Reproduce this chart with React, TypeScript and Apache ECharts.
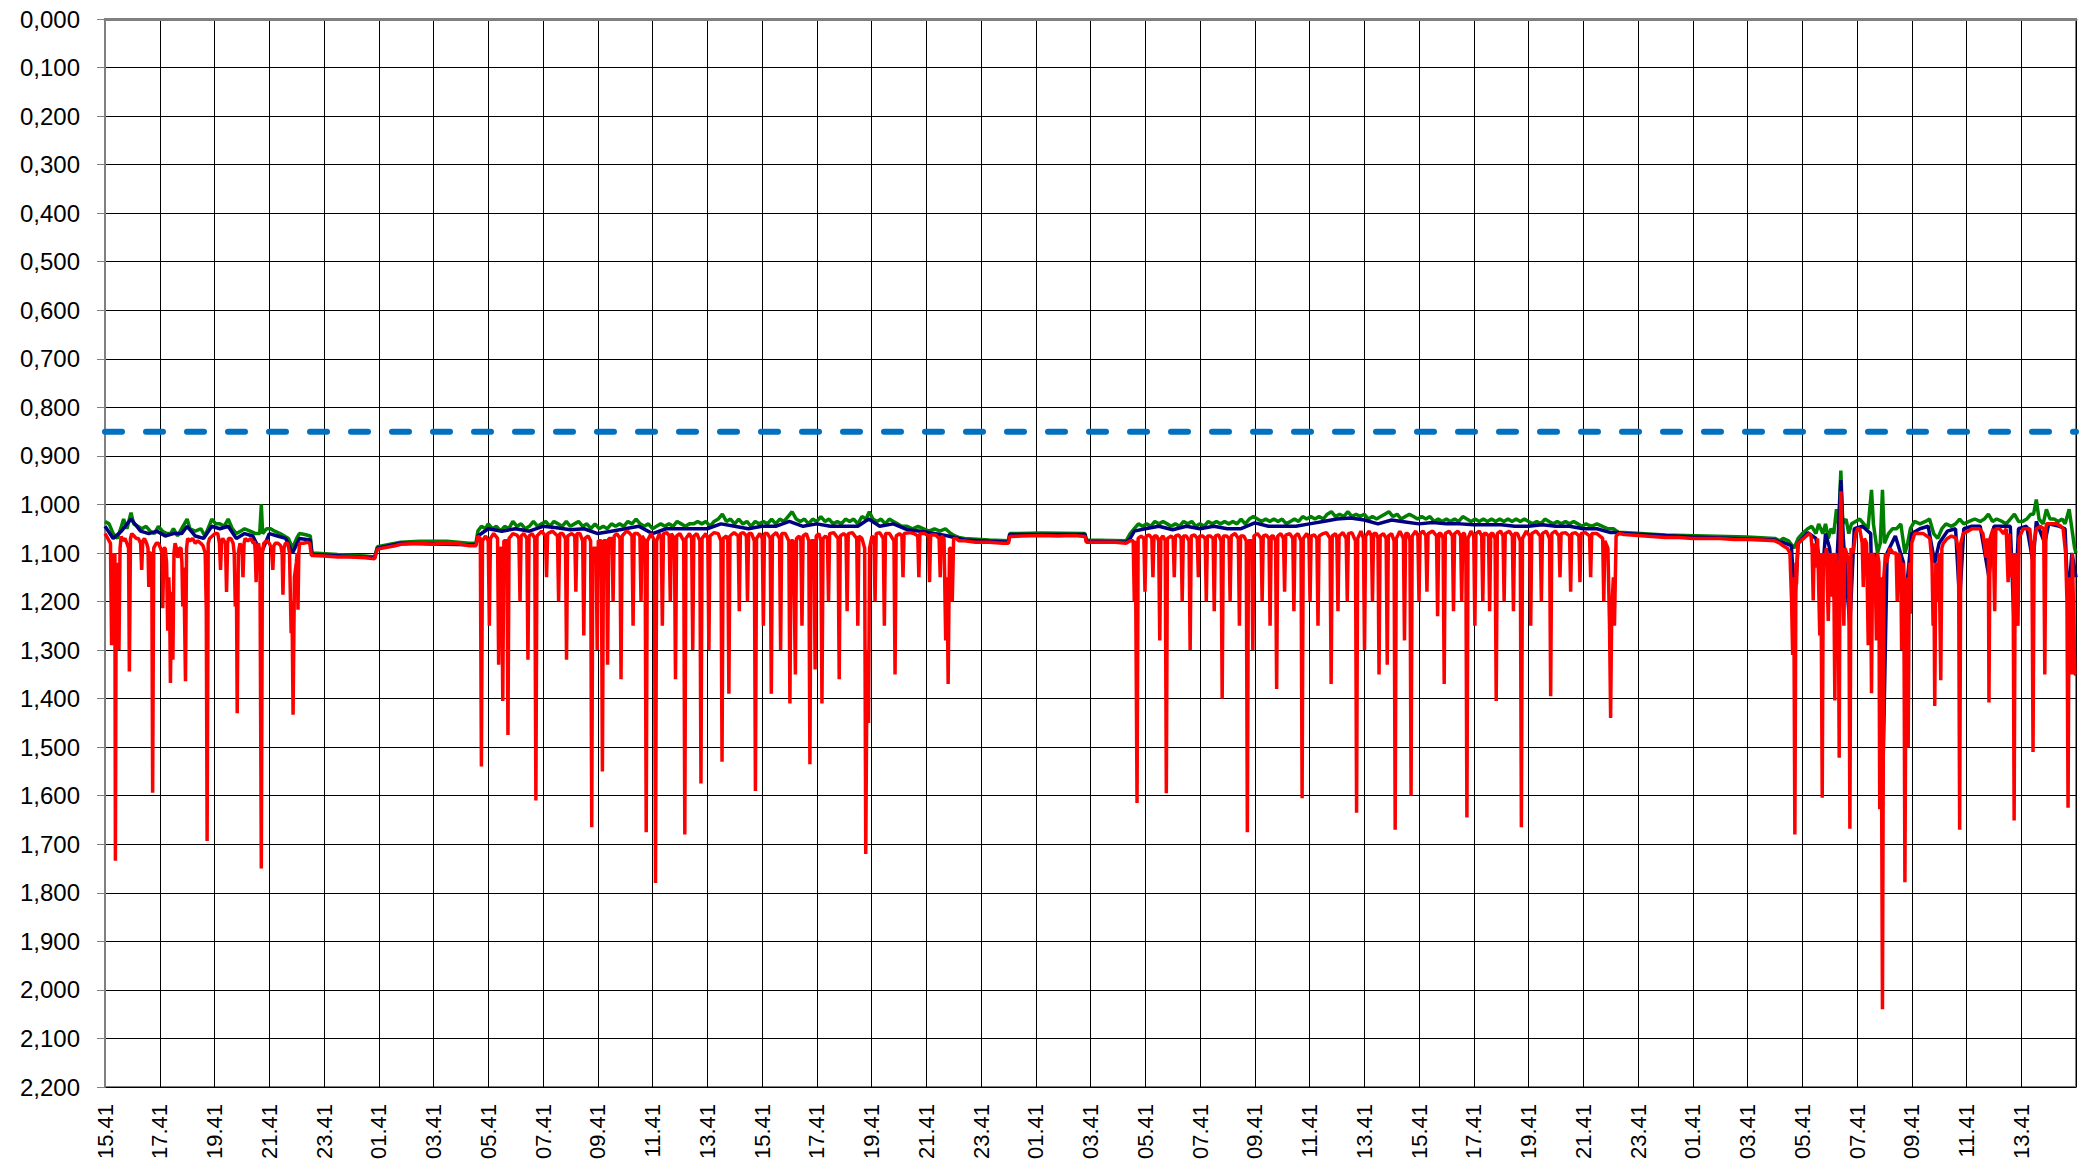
import React, { useEffect, useRef } from "react";
import * as echarts from "echarts";

// Tick labels of the time axis (every 2 hours, starting at 15.41)
const xTickLabels = [
  "15.41", "17.41", "19.41", "21.41", "23.41", "01.41", "03.41", "05.41", "07.41", "09.41", "11.41", "13.41",
  "15.41", "17.41", "19.41", "21.41", "23.41", "01.41", "03.41", "05.41", "07.41", "09.41", "11.41", "13.41",
  "15.41", "17.41", "19.41", "21.41", "23.41", "01.41", "03.41", "05.41", "07.41", "09.41", "11.41", "13.41",
];

const thresholdValue = 0.85;

// [hours since start, pressure]
const redPoints: [number, number][] = [
  [0.00,1.06],[0.10,1.07],[0.20,1.08],[0.24,1.29],[0.28,1.10],[0.32,1.15],[0.36,1.10],[0.38,1.734],[0.41,1.12],[0.44,1.29],[0.48,1.12],[0.51,1.30],[0.55,1.09],[0.59,1.066],[0.66,1.075],[0.73,1.07],[0.80,1.08],[0.86,1.09],[0.89,1.344],[0.93,1.07],[0.98,1.06],[1.06,1.065],[1.14,1.07],[1.22,1.07],[1.30,1.08],[1.34,1.135],[1.38,1.075],[1.44,1.07],[1.52,1.08],[1.57,1.09],[1.60,1.17],[1.64,1.10],[1.68,1.10],[1.71,1.12],[1.74,1.594],[1.78,1.09],[1.87,1.08],[1.95,1.08],[2.03,1.09],[2.08,1.10],[2.11,1.214],[2.15,1.09],[2.20,1.09],[2.25,1.12],[2.29,1.26],[2.33,1.15],[2.36,1.20],[2.39,1.368],[2.43,1.18],[2.48,1.32],[2.52,1.10],[2.56,1.08],[2.61,1.09],[2.66,1.11],[2.72,1.09],[2.78,1.09],[2.81,1.12],[2.84,1.21],[2.88,1.13],[2.94,1.364],[2.98,1.09],[3.02,1.07],[3.10,1.075],[3.20,1.07],[3.30,1.08],[3.39,1.075],[3.50,1.08],[3.58,1.085],[3.66,1.10],[3.70,1.22],[3.73,1.693],[3.77,1.08],[3.82,1.07],[3.92,1.065],[4.02,1.06],[4.12,1.06],[4.18,1.08],[4.22,1.135],[4.26,1.075],[4.30,1.07],[4.40,1.08],[4.44,1.18],[4.48,1.08],[4.51,1.07],[4.60,1.07],[4.68,1.08],[4.72,1.10],[4.76,1.21],[4.80,1.15],[4.83,1.43],[4.87,1.10],[4.93,1.08],[5.00,1.09],[5.04,1.15],[5.08,1.08],[5.12,1.07],[5.22,1.075],[5.32,1.07],[5.42,1.08],[5.46,1.075],[5.49,1.10],[5.52,1.16],[5.56,1.09],[5.61,1.08],[5.66,1.10],[5.71,1.75],[5.75,1.10],[5.80,1.08],[5.90,1.075],[6.00,1.08],[6.08,1.09],[6.13,1.135],[6.17,1.085],[6.22,1.08],[6.32,1.08],[6.42,1.085],[6.47,1.10],[6.50,1.186],[6.54,1.09],[6.59,1.08],[6.68,1.08],[6.74,1.10],[6.80,1.265],[6.83,1.20],[6.87,1.433],[6.92,1.15],[6.99,1.12],[7.02,1.10],[7.05,1.217],[7.08,1.10],[7.11,1.08],[7.25,1.08],[7.40,1.078],[7.48,1.08],[7.54,1.105],
  [7.60,1.105],[8.0,1.106],[8.5,1.108],[9.0,1.108],[9.5,1.11],[9.85,1.112],[9.95,1.092],[10.3,1.088],[10.6,1.085],[10.8,1.082],[11.5,1.08],[12.0,1.082],[12.2,1.08],[12.8,1.08],[13.0,1.082],[13.3,1.085],[13.55,1.085],
  [13.62,1.065],[13.71,1.07],[13.75,1.54],[13.79,1.075],[13.90,1.065],[14.00,1.075],[14.04,1.25],[14.08,1.07],[14.20,1.06],[14.34,1.07],[14.38,1.33],[14.42,1.09],[14.49,1.09],[14.53,1.405],[14.57,1.075],[14.68,1.075],[14.72,1.475],[14.76,1.07],[14.90,1.06],[15.05,1.063],[15.12,1.07],[15.16,1.20],[15.20,1.065],[15.30,1.06],[15.41,1.07],[15.45,1.32],[15.49,1.065],[15.60,1.06],[15.70,1.07],[15.74,1.61],[15.78,1.065],[15.95,1.055],[16.09,1.065],[16.13,1.15],[16.17,1.06],[16.35,1.055],[16.53,1.065],[16.57,1.20],[16.61,1.06],[16.72,1.06],[16.82,1.07],[16.86,1.32],[16.90,1.065],[17.05,1.06],[17.16,1.065],[17.20,1.18],[17.24,1.06],[17.35,1.06],[17.45,1.075],[17.49,1.27],[17.53,1.07],[17.65,1.065],[17.74,1.075],[17.78,1.665],[17.82,1.09],[17.94,1.09],[17.98,1.30],[18.02,1.075],[18.13,1.075],[18.17,1.55],[18.21,1.075],[18.32,1.075],[18.36,1.33],[18.40,1.07],[18.52,1.07],[18.56,1.20],[18.60,1.065],[18.70,1.06],[18.81,1.07],[18.85,1.36],[18.89,1.065],[19.05,1.055],[19.15,1.058],[19.25,1.065],[19.29,1.25],[19.33,1.06],[19.45,1.06],[19.54,1.065],[19.58,1.20],[19.62,1.065],[19.73,1.075],[19.77,1.675],[19.81,1.075],[19.95,1.06],[20.07,1.075],[20.11,1.78],[20.15,1.075],[20.25,1.06],[20.32,1.07],[20.36,1.25],[20.40,1.06],[20.52,1.058],[20.61,1.065],[20.65,1.20],[20.69,1.06],[20.80,1.07],[20.84,1.36],[20.88,1.065],[21.00,1.06],[21.14,1.075],[21.18,1.68],[21.22,1.07],[21.35,1.06],[21.43,1.07],[21.47,1.30],[21.51,1.065],[21.62,1.06],[21.73,1.075],[21.77,1.575],[21.81,1.07],[21.95,1.06],[22.02,1.07],[22.06,1.30],[22.10,1.065],[22.25,1.058],[22.40,1.06],[22.50,1.075],[22.54,1.53],[22.58,1.07],[22.70,1.065],[22.75,1.075],[22.79,1.39],[22.83,1.065],[22.98,1.058],[23.13,1.065],[23.17,1.22],[23.21,1.06],[23.32,1.058],[23.43,1.065],[23.47,1.20],[23.51,1.06],[23.62,1.06],[23.72,1.075],[23.76,1.59],[23.80,1.07],[23.92,1.06],[24.01,1.07],[24.05,1.25],[24.09,1.06],[24.20,1.06],[24.30,1.07],[24.34,1.39],[24.38,1.065],[24.52,1.058],[24.64,1.07],[24.68,1.30],[24.72,1.06],[24.85,1.06],[24.98,1.075],[25.02,1.41],[25.06,1.075],[25.14,1.075],[25.18,1.20],[25.22,1.35],[25.26,1.07],[25.36,1.065],[25.42,1.075],[25.46,1.25],[25.50,1.065],[25.62,1.06],[25.71,1.075],[25.75,1.535],[25.79,1.075],[25.90,1.075],[25.94,1.34],[25.98,1.065],[26.08,1.06],[26.15,1.075],[26.19,1.41],[26.23,1.07],[26.32,1.065],[26.39,1.07],[26.43,1.20],[26.47,1.06],[26.62,1.058],[26.78,1.07],[26.82,1.36],[26.86,1.065],[26.98,1.06],[27.07,1.065],[27.11,1.22],[27.15,1.06],[27.30,1.058],[27.46,1.07],[27.50,1.25],[27.54,1.065],[27.65,1.07],[27.75,1.09],[27.79,1.72],[27.84,1.30],[27.89,1.45],[27.93,1.09],[28.02,1.065],[28.09,1.07],[28.13,1.20],[28.17,1.06],[28.30,1.058],[28.43,1.07],[28.47,1.25],[28.51,1.06],[28.66,1.06],[28.82,1.075],[28.86,1.35],[28.90,1.065],[29.02,1.06],[29.11,1.065],[29.15,1.15],[29.19,1.06],[29.40,1.058],[29.55,1.06],[29.69,1.065],[29.73,1.15],[29.77,1.06],[29.95,1.06],[30.08,1.065],[30.12,1.16],[30.16,1.063],[30.35,1.063],[30.47,1.07],[30.51,1.15],[30.55,1.065],[30.65,1.07],[30.71,1.28],[30.76,1.15],[30.80,1.37],[30.85,1.09],[30.90,1.09],[30.95,1.20],[31.00,1.07],[31.10,1.07],[31.19,1.075],
  [31.4,1.075],[31.8,1.078],[32.3,1.078],[32.8,1.08],[33.0,1.08],[33.05,1.066],[33.5,1.065],[34.2,1.064],[34.8,1.065],[35.4,1.064],[35.8,1.066],[35.85,1.078],[36.3,1.078],[36.9,1.078],[37.3,1.08],[37.45,1.075],
  [37.56,1.075],[37.60,1.20],[37.64,1.075],[37.66,1.075],[37.70,1.615],[37.74,1.07],[37.85,1.065],[37.95,1.07],[37.99,1.18],[38.03,1.065],[38.15,1.063],[38.24,1.07],[38.28,1.15],[38.32,1.065],[38.42,1.065],[38.49,1.075],[38.53,1.28],[38.57,1.07],[38.65,1.065],[38.73,1.075],[38.77,1.595],[38.81,1.07],[38.95,1.065],[39.02,1.07],[39.06,1.15],[39.10,1.065],[39.22,1.063],[39.31,1.07],[39.35,1.20],[39.39,1.065],[39.50,1.065],[39.60,1.075],[39.64,1.30],[39.68,1.065],[39.80,1.063],[39.90,1.07],[39.94,1.15],[39.98,1.065],[40.10,1.065],[40.19,1.07],[40.23,1.20],[40.27,1.065],[40.38,1.065],[40.48,1.07],[40.52,1.22],[40.56,1.065],[40.68,1.063],[40.77,1.075],[40.81,1.40],[40.85,1.065],[40.97,1.065],[41.06,1.07],[41.10,1.20],[41.14,1.065],[41.28,1.06],[41.40,1.07],[41.44,1.25],[41.48,1.065],[41.60,1.065],[41.69,1.075],[41.73,1.675],[41.77,1.075],[41.89,1.075],[41.93,1.30],[41.97,1.065],[42.10,1.06],[42.23,1.07],[42.27,1.20],[42.31,1.065],[42.42,1.063],[42.52,1.07],[42.56,1.25],[42.60,1.065],[42.68,1.065],[42.76,1.075],[42.80,1.38],[42.84,1.065],[42.95,1.06],[43.05,1.07],[43.09,1.18],[43.13,1.063],[43.28,1.06],[43.39,1.07],[43.43,1.22],[43.47,1.065],[43.58,1.06],[43.69,1.075],[43.73,1.605],[43.77,1.07],[43.90,1.06],[43.98,1.07],[44.02,1.20],[44.06,1.065],[44.18,1.063],[44.27,1.07],[44.31,1.25],[44.35,1.065],[44.50,1.06],[44.62,1.058],[44.75,1.07],[44.79,1.37],[44.83,1.065],[44.95,1.06],[45.00,1.07],[45.04,1.22],[45.08,1.065],[45.22,1.058],[45.34,1.07],[45.38,1.20],[45.42,1.06],[45.55,1.058],[45.68,1.075],[45.72,1.635],[45.76,1.07],[45.88,1.055],[45.97,1.07],[46.01,1.30],[46.05,1.065],[46.18,1.055],[46.26,1.065],[46.30,1.20],[46.34,1.06],[46.44,1.06],[46.50,1.07],[46.54,1.35],[46.58,1.065],[46.70,1.06],[46.80,1.07],[46.84,1.33],[46.88,1.065],[47.00,1.06],[47.09,1.075],[47.13,1.67],[47.17,1.07],[47.30,1.055],[47.43,1.07],[47.47,1.28],[47.51,1.06],[47.60,1.06],[47.67,1.075],[47.71,1.60],[47.75,1.065],[47.88,1.055],[47.96,1.065],[48.00,1.20],[48.04,1.06],[48.15,1.055],[48.25,1.065],[48.29,1.18],[48.33,1.06],[48.50,1.055],[48.64,1.065],[48.68,1.23],[48.72,1.06],[48.80,1.06],[48.88,1.07],[48.92,1.37],[48.96,1.06],[49.10,1.055],[49.22,1.065],[49.26,1.22],[49.30,1.06],[49.42,1.055],[49.52,1.065],[49.56,1.20],[49.60,1.06],[49.66,1.06],[49.71,1.075],[49.75,1.645],[49.79,1.07],[49.90,1.055],[50.00,1.065],[50.04,1.25],[50.08,1.06],[50.20,1.055],[50.29,1.065],[50.33,1.20],[50.37,1.06],[50.45,1.06],[50.54,1.065],[50.58,1.22],[50.62,1.06],[50.70,1.06],[50.78,1.07],[50.82,1.405],[50.86,1.06],[50.98,1.055],[51.07,1.065],[51.11,1.20],[51.15,1.06],[51.30,1.055],[51.41,1.065],[51.45,1.22],[51.49,1.06],[51.60,1.06],[51.70,1.075],[51.74,1.665],[51.78,1.07],[51.92,1.055],[52.04,1.065],[52.08,1.25],[52.12,1.06],[52.28,1.055],[52.43,1.065],[52.47,1.20],[52.51,1.06],[52.65,1.055],[52.77,1.07],[52.81,1.395],[52.85,1.06],[52.98,1.055],[53.11,1.065],[53.15,1.15],[53.19,1.06],[53.35,1.058],[53.50,1.065],[53.54,1.18],[53.58,1.06],[53.72,1.058],[53.84,1.065],[53.88,1.16],[53.92,1.06],[54.08,1.058],[54.23,1.065],[54.27,1.15],[54.31,1.06],[54.50,1.06],[54.71,1.07],[54.75,1.20],[54.79,1.075],[54.90,1.09],[54.96,1.25],[55.00,1.44],[55.04,1.22],[55.10,1.15],[55.14,1.25],[55.20,1.065],[55.30,1.06],
  [55.5,1.062],[56.0,1.064],[56.5,1.066],[57.0,1.068],[57.5,1.068],[58.0,1.07],[58.5,1.07],[59.0,1.07],[59.5,1.072],[60.0,1.072],[60.5,1.073],[61.0,1.075],[61.18,1.08],
  [61.30,1.085],[61.45,1.09],[61.55,1.10],[61.61,1.20],[61.65,1.31],[61.69,1.15],[61.73,1.68],[61.77,1.12],[61.79,1.164],[61.84,1.08],[61.95,1.075],[62.05,1.07],[62.15,1.065],[62.25,1.06],[62.32,1.065],[62.36,1.09],[62.40,1.198],[62.44,1.08],[62.52,1.13],[62.56,1.07],[62.64,1.27],[62.68,1.10],[62.73,1.604],[62.77,1.10],[62.83,1.12],[62.88,1.09],[62.95,1.24],[63.00,1.10],[63.07,1.19],[63.11,1.10],[63.15,1.12],[63.19,1.404],[63.23,1.10],[63.28,1.20],[63.31,1.12],[63.35,1.522],[63.38,1.10],[63.41,0.973],[63.45,1.10],[63.52,1.25],[63.56,1.09],[63.62,1.10],[63.70,1.12],[63.74,1.668],[63.78,1.09],[63.86,1.10],[63.95,1.06],[64.02,1.05],[64.10,1.05],[64.19,1.08],[64.23,1.17],[64.27,1.07],[64.35,1.08],[64.41,1.29],[64.45,1.12],[64.49,1.10],[64.53,1.389],[64.57,1.10],[64.66,1.12],[64.71,1.28],[64.75,1.10],[64.80,1.12],[64.83,1.628],[64.87,1.15],[64.93,2.04],[64.98,1.15],[65.04,1.10],[65.08,1.12],[65.20,1.09],[65.32,1.10],[65.43,1.10],[65.47,1.20],[65.52,1.10],[65.60,1.12],[65.63,1.30],[65.68,1.12],[65.71,1.15],[65.75,1.778],[65.80,1.15],[65.87,1.50],[65.91,1.12],[65.95,1.225],[66.00,1.08],[66.11,1.06],[66.25,1.06],[66.42,1.06],[66.55,1.065],[66.66,1.07],[66.74,1.12],[66.78,1.25],[66.81,1.15],[66.84,1.415],[66.88,1.12],[66.96,1.20],[67.00,1.10],[67.06,1.362],[67.10,1.09],[67.15,1.08],[67.30,1.07],[67.45,1.065],[67.63,1.07],[67.71,1.10],[67.75,1.67],[67.79,1.08],[67.88,1.06],[68.05,1.055],[68.20,1.05],[68.35,1.05],[68.48,1.05],[68.60,1.06],[68.72,1.11],[68.76,1.07],[68.80,1.10],[68.82,1.408],[68.86,1.07],[68.97,1.05],[69.03,1.22],[69.07,1.05],[69.21,1.05],[69.35,1.06],[69.45,1.05],[69.52,1.16],[69.56,1.06],[69.64,1.15],[69.70,1.10],[69.74,1.651],[69.78,1.10],[69.88,1.25],[69.92,1.07],[70.07,1.05],[70.20,1.05],[70.31,1.05],[70.39,1.10],[70.43,1.51],[70.47,1.08],[70.55,1.05],[70.70,1.045],[70.82,1.05],[70.86,1.35],[70.90,1.05],[70.92,1.04],[71.10,1.04],[71.30,1.04],[71.45,1.045],[71.53,1.05],[71.62,1.10],[71.67,1.20],[71.71,1.625],[71.75,1.15],[71.83,1.35],[71.87,1.10],[71.92,1.25],[71.96,1.35],[72.00,1.35],
];

const bluePoints: [number, number][] = [
  [0,1.045],[0.3,1.07],[0.6,1.055],[0.95,1.03],[1.3,1.055],[1.6,1.06],[1.9,1.055],[2.2,1.065],[2.5,1.06],[2.8,1.06],[3.0,1.045],[3.3,1.065],[3.6,1.07],[3.9,1.045],[4.2,1.05],[4.5,1.045],[4.8,1.07],[5.1,1.06],[5.4,1.065],[5.71,1.10],[6.0,1.06],[6.3,1.065],[6.6,1.07],[6.85,1.10],[7.1,1.07],[7.5,1.073],[7.56,1.103],
  [7.6,1.103],[9.85,1.11],[9.95,1.09],[10.8,1.08],[13.3,1.083],[13.55,1.083],
  [13.62,1.065],[14.0,1.05],[14.5,1.055],[15.0,1.05],[15.5,1.055],[16.0,1.045],[16.5,1.048],[17.0,1.052],[17.5,1.05],[18.0,1.06],[18.5,1.055],[19.0,1.05],[19.5,1.045],[20.0,1.06],[20.5,1.05],[21.0,1.05],[21.5,1.05],[22.0,1.05],[22.5,1.04],[23.0,1.045],[23.5,1.05],[24.0,1.045],[24.5,1.045],[25.0,1.035],[25.5,1.045],[26.0,1.04],[26.5,1.045],[27.0,1.045],[27.5,1.045],[27.9,1.03],[28.3,1.045],[28.8,1.04],[29.3,1.052],[29.8,1.055],[30.3,1.06],[30.8,1.065],[31.19,1.07],
  [31.4,1.073],[33.0,1.078],[33.05,1.062],[35.8,1.062],[35.85,1.076],[37.3,1.078],[37.45,1.07],
  [37.6,1.055],[38.0,1.05],[38.5,1.045],[39.0,1.052],[39.5,1.045],[40.0,1.05],[40.5,1.045],[41.0,1.05],[41.5,1.05],[42.0,1.038],[42.5,1.045],[43.0,1.045],[43.5,1.045],[44.0,1.04],[44.5,1.035],[45.0,1.03],[45.5,1.028],[46.0,1.032],[46.5,1.04],[47.0,1.032],[47.5,1.036],[48.0,1.04],[48.5,1.037],[49.0,1.04],[49.5,1.04],[50.0,1.042],[50.5,1.042],[51.0,1.042],[51.5,1.045],[52.0,1.045],[52.5,1.042],[53.0,1.045],[53.5,1.045],[54.0,1.05],[54.5,1.05],[55.0,1.058],[55.3,1.058],
  [55.5,1.06],[58.0,1.067],[61.0,1.073],[61.18,1.078],
  [61.3,1.078],[61.6,1.085],[61.73,1.20],[61.85,1.08],[62.2,1.058],[62.5,1.07],[62.73,1.15],[62.85,1.06],[63.0,1.09],[63.19,1.20],[63.3,1.08],[63.41,0.95],[63.5,1.07],[63.74,1.25],[63.9,1.05],[64.2,1.045],[64.5,1.06],[64.53,1.15],[64.7,1.10],[64.85,1.30],[64.93,1.60],[65.0,1.40],[65.1,1.10],[65.4,1.065],[65.7,1.12],[65.75,1.35],[65.85,1.15],[66.0,1.06],[66.3,1.05],[66.6,1.045],[66.84,1.12],[67.0,1.08],[67.3,1.055],[67.6,1.05],[67.75,1.20],[67.9,1.05],[68.2,1.045],[68.5,1.045],[68.82,1.15],[69.0,1.045],[69.3,1.045],[69.6,1.045],[69.74,1.25],[69.9,1.05],[70.2,1.045],[70.43,1.12],[70.55,1.035],[70.86,1.08],[71.0,1.04],[71.4,1.045],[71.6,1.05],[71.71,1.20],[71.85,1.10],[72.0,1.15],
];

const greenPoints: [number, number][] = [
  [0,1.035],[0.15,1.04],[0.3,1.06],[0.45,1.07],[0.6,1.045],[0.68,1.03],[0.8,1.05],[0.95,1.017],[1.05,1.04],[1.2,1.045],[1.35,1.05],[1.5,1.045],[1.65,1.055],[1.8,1.06],[1.95,1.045],[2.1,1.055],[2.25,1.06],[2.4,1.06],[2.5,1.05],[2.65,1.065],[2.8,1.05],[3.0,1.03],[3.1,1.05],[3.3,1.055],[3.5,1.05],[3.65,1.065],[3.8,1.045],[3.9,1.03],[4.05,1.04],[4.2,1.04],[4.35,1.045],[4.5,1.03],[4.65,1.05],[4.8,1.06],[4.95,1.055],[5.1,1.05],[5.3,1.055],[5.5,1.06],[5.65,1.06],[5.71,1.0],[5.76,1.06],[5.9,1.05],[6.05,1.05],[6.2,1.055],[6.4,1.06],[6.55,1.065],[6.7,1.07],[6.85,1.09],[7.0,1.07],[7.1,1.06],[7.3,1.062],[7.5,1.065],[7.56,1.10],
  [7.6,1.1],[8.5,1.103],[9.5,1.106],[9.85,1.108],[9.95,1.087],[10.8,1.078],[11.5,1.076],[12.5,1.076],[13.3,1.08],[13.55,1.08],
  [13.62,1.055],[13.75,1.045],[13.9,1.05],[14.0,1.04],[14.15,1.05],[14.3,1.045],[14.45,1.055],[14.6,1.045],[14.75,1.05],[14.9,1.035],[15.05,1.045],[15.2,1.04],[15.35,1.05],[15.5,1.045],[15.65,1.035],[15.8,1.045],[15.95,1.04],[16.1,1.035],[16.25,1.045],[16.4,1.035],[16.55,1.04],[16.7,1.045],[16.85,1.035],[17.0,1.045],[17.15,1.04],[17.3,1.035],[17.45,1.045],[17.6,1.04],[17.75,1.05],[17.9,1.04],[18.05,1.05],[18.2,1.045],[18.35,1.05],[18.5,1.04],[18.65,1.045],[18.8,1.04],[18.95,1.045],[19.1,1.035],[19.25,1.04],[19.4,1.03],[19.55,1.04],[19.7,1.045],[19.85,1.04],[20.0,1.05],[20.15,1.045],[20.3,1.04],[20.45,1.045],[20.6,1.04],[20.75,1.045],[20.9,1.035],[21.05,1.04],[21.2,1.045],[21.35,1.04],[21.5,1.04],[21.65,1.035],[21.8,1.04],[21.95,1.035],[22.1,1.045],[22.25,1.035],[22.4,1.03],[22.55,1.02],[22.7,1.035],[22.85,1.03],[23.0,1.04],[23.15,1.03],[23.3,1.04],[23.45,1.035],[23.6,1.045],[23.75,1.035],[23.9,1.04],[24.05,1.035],[24.2,1.04],[24.35,1.03],[24.5,1.04],[24.65,1.03],[24.8,1.035],[24.95,1.025],[25.1,1.015],[25.25,1.03],[25.4,1.035],[25.55,1.03],[25.7,1.04],[25.85,1.03],[26.0,1.035],[26.15,1.025],[26.3,1.035],[26.45,1.03],[26.6,1.04],[26.75,1.035],[26.9,1.04],[27.05,1.03],[27.2,1.035],[27.35,1.03],[27.5,1.04],[27.65,1.025],[27.8,1.03],[27.92,1.015],[28.05,1.03],[28.2,1.035],[28.35,1.03],[28.5,1.04],[28.65,1.03],[28.8,1.035],[28.95,1.04],[29.1,1.045],[29.3,1.045],[29.5,1.05],[29.7,1.045],[29.9,1.05],[30.1,1.055],[30.3,1.05],[30.5,1.055],[30.7,1.05],[30.9,1.06],[31.05,1.065],[31.19,1.068],
  [31.4,1.07],[32.3,1.073],[33.0,1.075],[33.05,1.06],[34.2,1.059],[35.8,1.06],[35.85,1.073],[37.3,1.075],[37.45,1.06],
  [37.6,1.05],[37.75,1.04],[37.9,1.045],[38.05,1.04],[38.2,1.045],[38.35,1.035],[38.5,1.04],[38.65,1.035],[38.8,1.04],[38.95,1.045],[39.1,1.04],[39.25,1.045],[39.4,1.035],[39.55,1.04],[39.7,1.035],[39.85,1.045],[40.0,1.04],[40.15,1.045],[40.3,1.035],[40.45,1.04],[40.6,1.035],[40.75,1.04],[40.9,1.035],[41.05,1.04],[41.2,1.035],[41.35,1.04],[41.5,1.03],[41.65,1.04],[41.8,1.03],[41.95,1.025],[42.1,1.03],[42.25,1.035],[42.4,1.03],[42.55,1.035],[42.7,1.03],[42.85,1.035],[43.0,1.03],[43.15,1.04],[43.3,1.035],[43.45,1.03],[43.6,1.035],[43.75,1.025],[43.9,1.03],[44.05,1.025],[44.2,1.03],[44.35,1.025],[44.5,1.03],[44.65,1.02],[44.8,1.015],[44.95,1.025],[45.1,1.02],[45.25,1.025],[45.4,1.015],[45.55,1.025],[45.7,1.02],[45.85,1.025],[46.0,1.02],[46.15,1.03],[46.3,1.025],[46.45,1.03],[46.6,1.025],[46.75,1.02],[46.9,1.015],[47.05,1.025],[47.2,1.02],[47.35,1.03],[47.5,1.025],[47.65,1.02],[47.8,1.025],[47.95,1.03],[48.1,1.025],[48.25,1.03],[48.4,1.025],[48.55,1.035],[48.7,1.03],[48.85,1.035],[49.0,1.03],[49.15,1.035],[49.3,1.03],[49.45,1.035],[49.6,1.025],[49.75,1.03],[49.9,1.035],[50.05,1.03],[50.2,1.035],[50.35,1.03],[50.5,1.035],[50.65,1.03],[50.8,1.035],[50.95,1.03],[51.1,1.035],[51.25,1.03],[51.4,1.035],[51.55,1.03],[51.7,1.035],[51.85,1.03],[52.0,1.035],[52.15,1.04],[52.3,1.035],[52.45,1.04],[52.6,1.03],[52.75,1.035],[52.9,1.04],[53.05,1.035],[53.2,1.04],[53.35,1.035],[53.5,1.04],[53.65,1.035],[53.8,1.04],[53.95,1.045],[54.1,1.04],[54.3,1.045],[54.5,1.04],[54.7,1.045],[54.9,1.05],[55.1,1.05],[55.3,1.058],
  [55.5,1.058],[57.0,1.063],[58.5,1.065],[60.0,1.067],[61.0,1.07],[61.18,1.075],
  [61.3,1.07],[61.5,1.075],[61.7,1.09],[61.85,1.07],[62.0,1.06],[62.2,1.05],[62.35,1.045],[62.5,1.06],[62.6,1.04],[62.75,1.06],[62.85,1.04],[62.95,1.07],[63.05,1.05],[63.15,1.06],[63.25,1.01],[63.33,1.04],[63.41,0.93],[63.48,1.04],[63.6,1.03],[63.7,1.06],[63.8,1.04],[63.95,1.035],[64.1,1.03],[64.25,1.04],[64.4,1.05],[64.53,0.97],[64.6,1.04],[64.75,1.1],[64.85,1.08],[64.93,0.97],[65.0,1.08],[65.15,1.06],[65.3,1.05],[65.45,1.05],[65.6,1.04],[65.75,1.10],[65.85,1.08],[65.95,1.05],[66.1,1.035],[66.3,1.04],[66.5,1.035],[66.65,1.03],[66.8,1.06],[66.95,1.07],[67.1,1.05],[67.25,1.04],[67.45,1.045],[67.6,1.04],[67.75,1.03],[67.9,1.04],[68.1,1.035],[68.3,1.03],[68.5,1.035],[68.65,1.03],[68.8,1.02],[68.95,1.035],[69.1,1.03],[69.3,1.035],[69.45,1.04],[69.6,1.03],[69.75,1.02],[69.9,1.035],[70.05,1.035],[70.2,1.03],[70.35,1.02],[70.45,1.02],[70.55,0.99],[70.65,1.03],[70.8,1.04],[70.92,1.01],[71.05,1.03],[71.2,1.03],[71.35,1.035],[71.5,1.03],[71.6,1.04],[71.75,1.01],[71.85,1.05],[71.95,1.09],[72.0,1.10],
];

const X_MAX = 72;
const Y_MIN = 0;
const Y_MAX = 2.2;

export default function App() {
  const ref = useRef<HTMLDivElement>(null);
  useEffect(() => {
    if (!ref.current) return;
    const chart = echarts.init(ref.current, null, { renderer: "svg" });
    const font = "'Liberation Sans', Arial, sans-serif";
    chart.setOption({
      animation: false,
      backgroundColor: "#ffffff",
      grid: {
        left: 105,
        top: 19,
        right: 11,
        bottom: 79,
        containLabel: false,
        show: true,
        borderColor: "#808080",
        borderWidth: 2,
      },
      xAxis: {
        type: "value",
        min: 0,
        max: X_MAX,
        interval: 2,
        axisLine: { show: true, lineStyle: { color: "#808080", width: 3 } },
        axisTick: { show: false },
        splitLine: { show: true, lineStyle: { color: "#000000", width: 1 } },
        axisLabel: {
          rotate: 90,
          margin: 17,
          fontSize: 22,
          color: "#000000",
          fontFamily: font,
          showMaxLabel: false,
          formatter: (v: number) => xTickLabels[Math.round(v / 2)] ?? "",
        },
      },
      yAxis: {
        type: "value",
        inverse: true,
        min: Y_MIN,
        max: Y_MAX,
        interval: 0.1,
        axisLine: { show: true, lineStyle: { color: "#808080", width: 2 } },
        axisTick: { show: true, inside: false, length: 8, lineStyle: { color: "#808080", width: 1 } },
        splitLine: { show: true, lineStyle: { color: "#000000", width: 1 } },
        axisLabel: {
          margin: 25,
          fontSize: 24,
          color: "#000000",
          fontFamily: font,
          formatter: (v: number) => v.toFixed(3).replace(".", ","),
        },
      },
      series: [
        {
          type: "line",
          name: "soglia",
          data: [[0, thresholdValue], [X_MAX, thresholdValue]],
          symbol: "none",
          lineStyle: { color: "#0070C0", width: 6, type: [17, 24], cap: "round" },
          silent: true,
        },
        {
          type: "line",
          name: "green",
          data: greenPoints,
          symbol: "none",
          lineStyle: { color: "#008000", width: 3.5 },
          silent: true,
        },
        {
          type: "line",
          name: "blue",
          data: bluePoints,
          symbol: "none",
          lineStyle: { color: "#000080", width: 3.5 },
          silent: true,
        },
        {
          type: "line",
          name: "red",
          data: redPoints,
          symbol: "none",
          lineStyle: { color: "#FF0000", width: 3.5 },
          silent: true,
        },
      ],
    });
    return () => chart.dispose();
  }, []);
  return (
    <div
      ref={ref}
      style={{ position: "fixed", left: 0, top: 0, width: 2087, height: 1166, background: "#fff" }}
    />
  );
}
